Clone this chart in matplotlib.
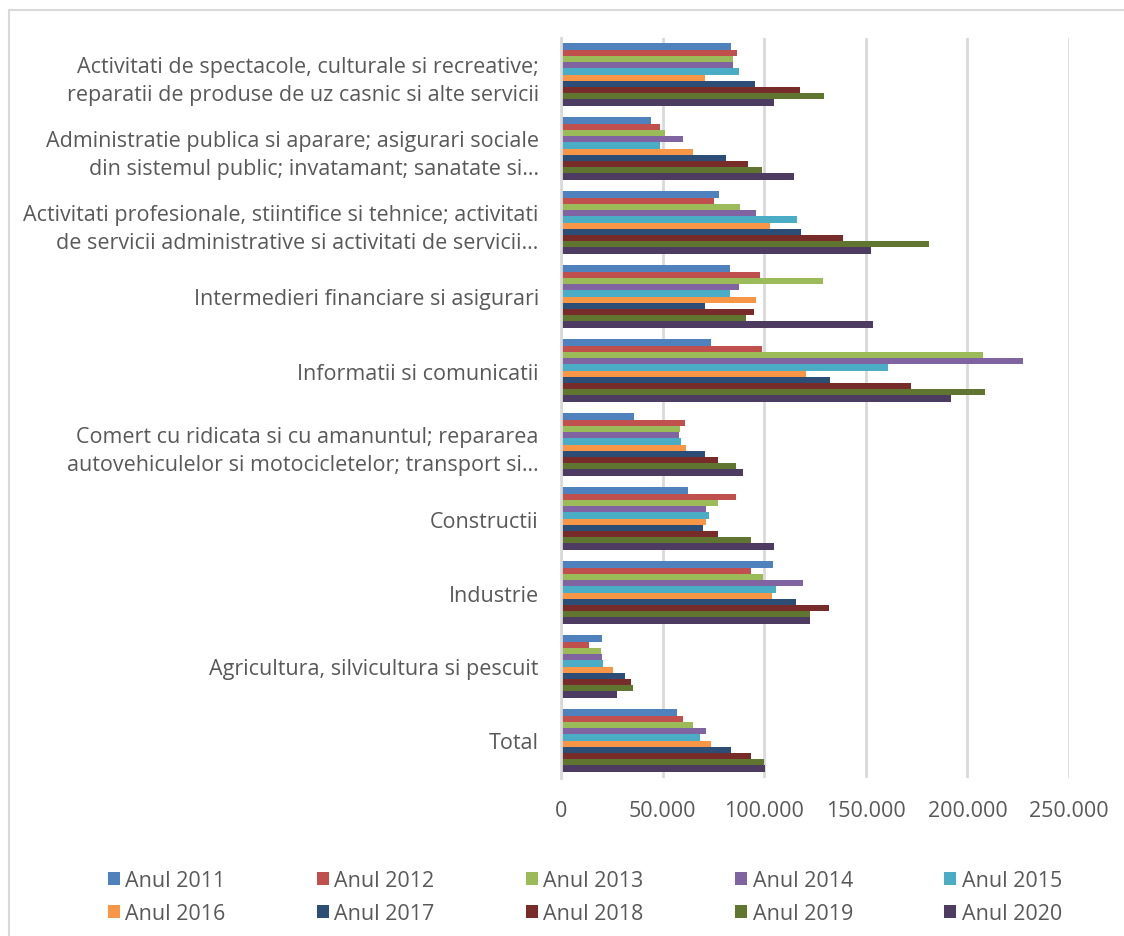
import matplotlib.pyplot as plt
from matplotlib.patches import Rectangle
import numpy as np

# Categories, bottom to top as drawn
categories = [
    'Total',
    'Agricultura, silvicultura si pescuit',
    'Industrie',
    'Constructii',
    'Comert cu ridicata si cu amanuntul; repararea\nautovehiculelor si motocicletelor; transport si…',
    'Informatii si comunicatii',
    'Intermedieri financiare si asigurari',
    'Activitati profesionale, stiintifice si tehnice; activitati\nde servicii administrative si activitati de servicii…',
    'Administratie publica si aparare; asigurari sociale\ndin sistemul public; invatamant; sanatate si…',
    'Activitati de spectacole, culturale si recreative;\nreparatii de produse de uz casnic si alte servicii',
]

years = ['Anul 2011', 'Anul 2012', 'Anul 2013', 'Anul 2014', 'Anul 2015',
         'Anul 2016', 'Anul 2017', 'Anul 2018', 'Anul 2019', 'Anul 2020']

# values per year, same order as categories
v2011 = [56900, 20100, 104300, 62500, 35800, 73900, 83200, 78000, 44400, 83600]
v2012 = [60200, 13900, 93600, 86300, 60900, 98800, 97900, 75400, 48500, 86600]
v2013 = [65000, 19800, 99500, 77400, 58600, 207600, 128900, 88000, 51300, 84600]
v2014 = [71400, 20100, 119100, 71300, 58100, 227200, 87600, 96000, 59900, 84600]
v2015 = [68300, 20500, 105900, 72600, 59000, 160700, 83300, 116200, 48800, 87800]
v2016 = [73900, 25600, 103600, 71600, 61700, 120600, 96000, 103000, 65000, 71100]
v2017 = [83700, 31300, 115500, 70000, 70900, 132300, 71100, 118100, 81000, 95500]
v2018 = [93600, 34500, 131700, 77400, 77400, 172400, 94900, 138600, 92200, 117500]
v2019 = [100000, 35600, 122400, 93700, 86300, 208500, 91100, 181000, 99000, 129400]
v2020 = [100300, 27400, 122500, 104600, 89400, 191700, 153500, 152600, 114500, 104900]
values = [v2011, v2012, v2013, v2014, v2015, v2016, v2017, v2018, v2019, v2020]

colors = ['#4F81BD', '#C0504D', '#9BBB59', '#8064A2', '#4BACC6',
          '#F79646', '#2C4D75', '#772C2A', '#5F7530', '#4D3B62']

xticks = [0, 50000, 100000, 150000, 200000, 250000]
xticklabels = ['0', '50.000', '100.000', '150.000', '200.000', '250.000']

plt.rcParams['font.family'] = ['Open Sans', 'DejaVu Sans']
text_color = '#595959'
fs = 15.5

fig = plt.figure(figsize=(11.24, 9.37), dpi=100)
ax = fig.add_axes([561 / 1124, 1 - 778.5 / 937, (1069 - 561) / 1124, (778.5 - 38.5) / 937])

y = np.arange(len(categories))
h = 0.084
bars = []
for j, (vals, c) in enumerate(zip(values, colors)):
    b = ax.barh(y + (4.5 - j) * h, vals, height=h, color=c, edgecolor='none', zorder=3)
    bars.append(b)

ax.set_xlim(0, 250000)
ax.set_ylim(-0.5, 9.5)
ax.set_xticks(xticks)
ax.set_xticklabels(xticklabels)
ax.set_yticks(y)
ax.set_yticklabels(categories, linespacing=1.45, ha='right')
ax.tick_params(axis='x', length=0, pad=16, labelsize=fs, colors=text_color)
ax.tick_params(axis='y', length=0, pad=16, labelsize=fs, colors=text_color)
ax.xaxis.grid(True, color='#D9D9D9', linewidth=2, zorder=0)
for s in ['top', 'right', 'bottom']:
    ax.spines[s].set_visible(False)
ax.spines['left'].set_color('#D9D9D9')
ax.spines['left'].set_linewidth(2)
ax.spines['left'].set_zorder(4)

# legend: row-wise order with ncol=5
order = [0, 5, 1, 6, 2, 7, 3, 8, 4, 9]
fig.legend([bars[i] for i in order], [years[i] for i in order],
           ncol=5, loc='center', bbox_to_anchor=(585 / 1124, 1 - 898 / 937),
           frameon=False, fontsize=fs, labelcolor=text_color,
           handlelength=0.55, handleheight=0.55, handletextpad=0.25,
           columnspacing=4.25, labelspacing=0.55)

fig.patches.append(Rectangle((9 / 1124, -0.01), 1.0, 1 - 11 / 937 + 0.01,
                             transform=fig.transFigure, fill=False,
                             edgecolor='#D9D9D9', linewidth=1.5))

fig.savefig('out.png', dpi=100)
